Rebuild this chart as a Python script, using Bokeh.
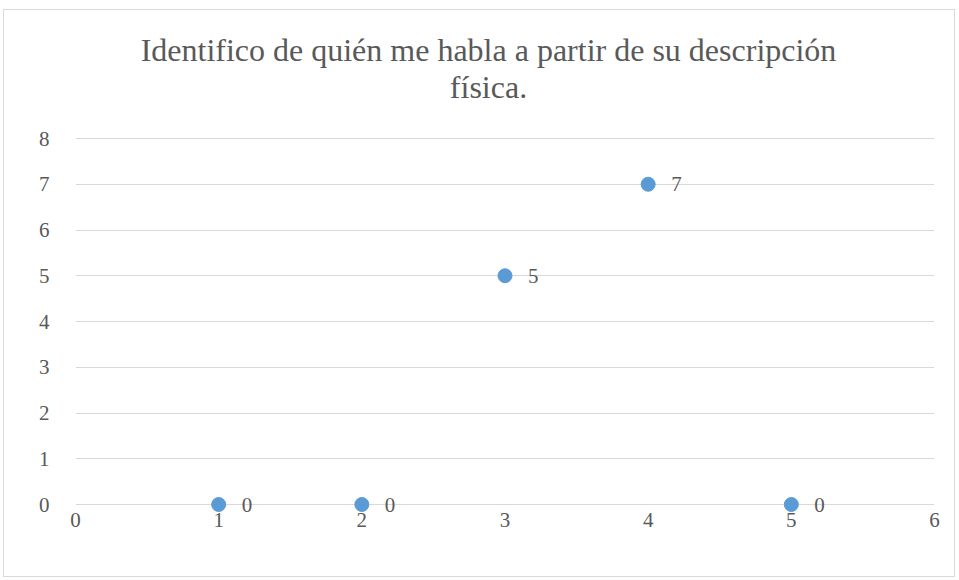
from bokeh.plotting import figure
from bokeh.models import ColumnDataSource, Range1d, FixedTicker, LabelSet
from bokeh.core.properties import value
from bokeh.embed import file_html
from bokeh.resources import INLINE

x_vals = [1, 2, 3, 4, 5]
y_vals = [0, 0, 5, 7, 0]
labels = [str(v) for v in y_vals]
x_ticks = [0, 1, 2, 3, 4, 5, 6]
y_ticks = [0, 1, 2, 3, 4, 5, 6, 7, 8]
title_lines = ["Identifico de quién me habla a partir de su descripción", "física."]

FONT = "Liberation Serif"
GREY = "#595959"
BLUE = "#5B9BD5"

# layout (pixels): plot frame and title baselines
FRAME_LEFT, FRAME_RIGHT = 75, 934
FRAME_BOTTOM, Y0_PX, Y8_PX = 518, 504, 138
TITLE_CX, TITLE_BASELINES = 488, [49, 86]
px_per_y = (Y0_PX - Y8_PX) / 8.0
px_per_x = (FRAME_RIGHT - FRAME_LEFT) / 6.0
FRAME_TOP = 20
y_start = -(FRAME_BOTTOM - Y0_PX) / px_per_y
y_end = 8 + (Y8_PX - FRAME_TOP) / px_per_y
title_x = [(TITLE_CX - FRAME_LEFT) / px_per_x] * 2
title_y = [8 + (Y8_PX - b) / px_per_y for b in TITLE_BASELINES]

src = ColumnDataSource(dict(x=x_vals, y=y_vals, lbl=labels))

p = figure(width=952, height=568, output_backend="svg", toolbar_location=None,
           x_range=Range1d(0, 6), y_range=Range1d(y_start, y_end),
           min_border_left=71, min_border_right=22, min_border_bottom=60,
           min_border_top=10)
p.styles = {"border": "1px solid #d9d9d9", "margin-left": "3px", "margin-top": "9px"}
p.title = None

p.text(x=title_x, y=title_y, text=title_lines, text_align="center",
       text_baseline="alphabetic", text_font=value(FONT), text_font_size="32px",
       text_color=GREY)

p.outline_line_color = None
p.xgrid.grid_line_color = None
p.ygrid.grid_line_color = "#d9d9d9"
p.ygrid.grid_line_width = 1

p.xaxis.ticker = FixedTicker(ticks=x_ticks)
p.yaxis.ticker = FixedTicker(ticks=y_ticks)
for ax in (p.xaxis, p.yaxis):
    ax.major_label_text_font = FONT
    ax.major_label_text_font_size = "21px"
    ax.major_label_text_color = GREY
    ax.major_tick_line_color = None
    ax.minor_tick_line_color = None
    ax.major_tick_out = 0
    ax.major_tick_in = 0
    ax.axis_line_color = None
p.yaxis.major_label_standoff = 26
p.xaxis.major_label_standoff = -6

p.scatter("x", "y", source=src, size=14, fill_color=BLUE, line_color=BLUE)

ls = LabelSet(x="x", y="y", text="lbl", source=src, x_offset=23, y_offset=0,
              text_font=FONT, text_font_size="21px", text_color=GREY,
              text_baseline="middle")
p.add_layout(ls)

open("out.html", "w").write(file_html(p, INLINE))
